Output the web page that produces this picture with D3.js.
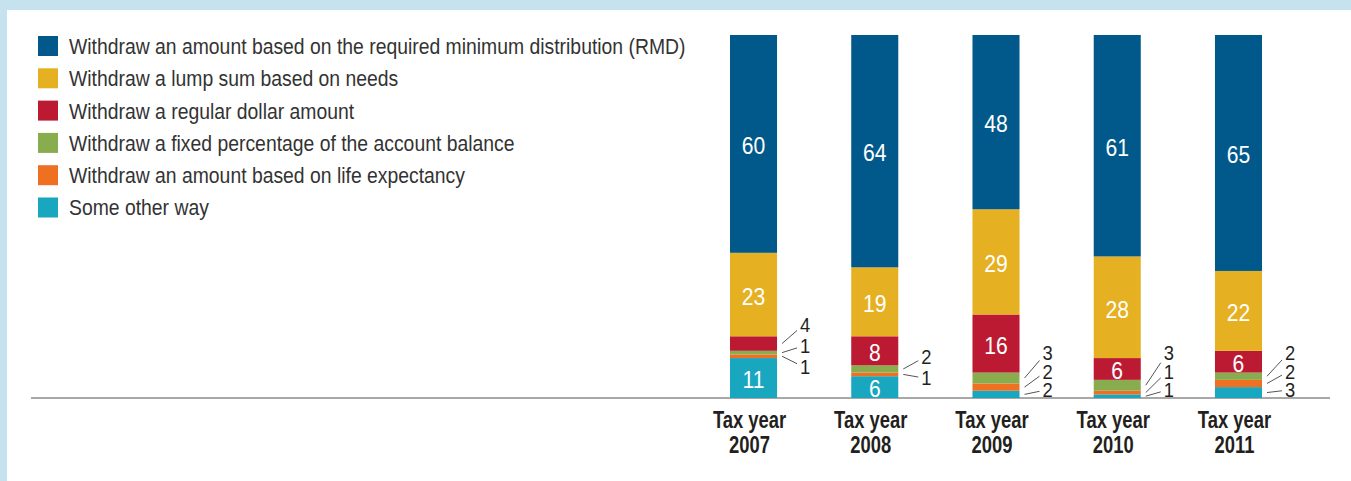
<!DOCTYPE html>
<html>
<head>
<meta charset="utf-8">
<script src="https://cdn.jsdelivr.net/npm/d3@7"></script>
<style>
  body { margin: 0; background: #fff; }
  svg { display: block; }
  text { font-family: 'Liberation Sans', Arial, sans-serif; }
</style>
</head>
<body>
<script>
var w = 1351;
var h = 481;

// categories and series (percent of respondents)
var years = ["2007", "2008", "2009", "2010", "2011"];
var seriesNames = [
  "Withdraw an amount based on the required minimum distribution (RMD)",
  "Withdraw a lump sum based on needs",
  "Withdraw a regular dollar amount",
  "Withdraw a fixed percentage of the account balance",
  "Withdraw an amount based on life expectancy",
  "Some other way"
];
var colors = ["#00598a", "#e5b022", "#bc1a33", "#88ac4e", "#f07022", "#19a6bf"];

var rmd       = [60, 64, 48, 61, 65];
var lumpSum   = [23, 19, 29, 28, 22];
var regular   = [4, 8, 16, 6, 6];
var fixedPct  = [1, 2, 3, 3, 2];
var lifeExp   = [1, 1, 2, 1, 2];
var otherWay  = [11, 6, 2, 1, 3];

var seriesValues = [rmd, lumpSum, regular, fixedPct, lifeExp, otherWay];

// values below this get an outside label with a leader line
const smallCutoff = 5;
// the original uses a condensed face, so squeeze the text horizontally
const squeeze = 0.88;

// build rows for the stack (bottom series first)
var rows = years.map(function(y, i) {
  var r = {year: y};
  seriesNames.forEach(function(s, k) { r[s] = seriesValues[k][i]; });
  return r;
});

var stackOrder = seriesNames.slice().reverse();
var stacked = d3.stack().keys(stackOrder)(rows);

var xScale = d3.scaleBand()
               .domain(years)
               .range([730, 1262])
               .paddingInner(0.612)
               .paddingOuter(0);

var yScale = d3.scaleLinear()
               .domain([0, 100])
               .range([398, 35]);

var color = d3.scaleOrdinal().domain(seriesNames).range(colors);

var svg = d3.select("body")
            .append("svg")
            .attr("width", w)
            .attr("height", h);

// light blue frame
svg.append("rect").attr("width", w).attr("height", h).attr("fill", "#c6e2ee");
svg.append("rect").attr("x", 7).attr("y", 10).attr("width", w - 7).attr("height", h - 10).attr("fill", "#fff");

// legend
var legend = svg.append("g").selectAll("g")
                .data(seriesNames)
                .enter()
                .append("g")
                .attr("transform", function(d, i) { return "translate(38," + (36 + i * 32.3) + ")"; });

legend.append("rect")
      .attr("width", 20)
      .attr("height", 20)
      .attr("fill", function(d) { return color(d); });

legend.append("text")
      .attr("x", 0)
      .attr("y", 10)
      .attr("dy", "0.36em")
      .attr("font-size", "22px")
      .attr("fill", "#333")
      .attr("transform", "translate(31,0) scale(" + squeeze + ",1)")
      .text(function(d) { return d; });

// baseline
svg.append("line")
   .attr("x1", 31).attr("x2", 1330)
   .attr("y1", yScale(0)).attr("y2", yScale(0))
   .attr("stroke", "#a8a8a8")
   .attr("stroke-width", 2);

// bars
var layers = svg.append("g").selectAll("g")
                .data(stacked)
                .enter()
                .append("g")
                .attr("fill", function(d) { return color(d.key); });

layers.selectAll("rect")
      .data(function(d) { return d; })
      .enter()
      .append("rect")
      .attr("x", function(d) { return xScale(d.data.year); })
      .attr("y", function(d) { return yScale(d[1]); })
      .attr("width", xScale.bandwidth())
      .attr("height", function(d) { return yScale(d[0]) - yScale(d[1]); });

// split segments into inside and outside labels
var inside = [];
var outside = {};
stacked.forEach(function(layer) {
  layer.forEach(function(d) {
    var v = d[1] - d[0];
    var item = {year: d.data.year, value: v, mid: (yScale(d[0]) + yScale(d[1])) / 2};
    if (v >= smallCutoff) inside.push(item);
    else (outside[item.year] = outside[item.year] || []).push(item);
  });
});

svg.append("g").selectAll("text")
   .data(inside)
   .enter()
   .append("text")
   .attr("transform", function(d) {
     return "translate(" + (xScale(d.year) + xScale.bandwidth() / 2) + "," + (d.mid + 2) + ") scale(0.92,1)";
   })
   .attr("dy", "0.36em")
   .attr("text-anchor", "middle")
   .attr("font-size", "23px")
   .attr("fill", "#fff")
   .text(function(d) { return d.value; });

// outside labels with leader lines
var callouts = svg.append("g");
years.forEach(function(y) {
  var list = (outside[y] || []).slice().reverse(); // top first
  if (!list.length) return;
  var top = d3.min(list, function(d) { return d.mid; });
  var bottom = d3.max(list, function(d) { return d.mid; });
  var centre = (top + bottom) / 2 - 4;
  var gap = 21;
  var first = centre - gap * (list.length - 1) / 2;
  var last = first + gap * (list.length - 1);
  if (last > 390) {
    gap = 18.5;
    first = 390 - gap * (list.length - 1);
  }
  var right = xScale(y) + xScale.bandwidth();
  list.forEach(function(d, i) {
    var ly = first + i * gap;
    callouts.append("line")
            .attr("x1", right + 5).attr("y1", d.mid)
            .attr("x2", right + 20).attr("y2", ly + (d.mid - ly) * 0.3)
            .attr("stroke", "#555")
            .attr("stroke-width", 1);
    callouts.append("text")
            .attr("transform", "translate(" + (right + 23) + "," + ly + ") scale(0.92,1)")
            .attr("dy", "0.36em")
            .attr("font-size", "20px")
            .attr("fill", "#231f20")
            .text(d.value);
  });
});

// category axis
const xAxis = d3.axisBottom(xScale).tickSize(0).tickPadding(0);
var axisG = svg.append("g")
               .attr("transform", "translate(0," + yScale(0) + ")")
               .call(xAxis);
axisG.select(".domain").remove();
axisG.selectAll(".tick text").each(function(d) {
  var t = d3.select(this).text(null)
            .attr("font-size", "23px")
            .attr("font-weight", "bold")
            .attr("fill", "#231f20")
            .attr("y", 0)
            .attr("dy", null)
            .attr("transform", "translate(-4,0) scale(0.8,1)");
  t.append("tspan").attr("x", 0).attr("y", 30).text("Tax year");
  t.append("tspan").attr("x", 0).attr("y", 55).text(d);
});
</script>
</body>
</html>
